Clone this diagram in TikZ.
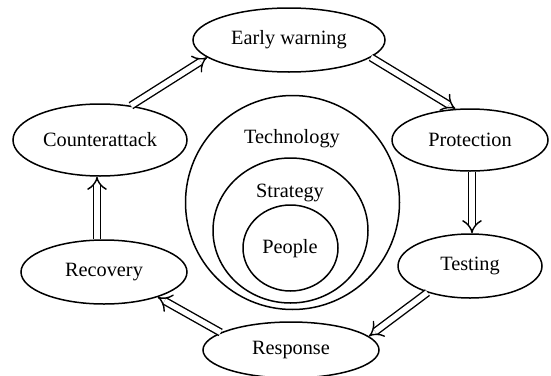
\documentclass[tikz,border=0pt]{standalone}
\usepackage{fontspec}
\setmainfont{Liberation Serif}
\usetikzlibrary{shapes.geometric,arrows.meta}
\begin{document}
\begin{tikzpicture}[x=1pt,y=-1pt,
  oval/.style={draw,line width=1.5pt,ellipse,inner sep=0pt},
  lbl/.style={font=\fontsize{20.3}{24}\selectfont,inner sep=0pt},
  dbl/.style={double distance=5.5pt,line width=1.4pt,-{Implies[scale=1.5]}}]
\useasboundingbox (0,0) rectangle (551,375);
% outer cycle
\node[oval,minimum width=192pt,minimum height=64pt] (ew) at (289,40) {};
\node[oval,minimum width=156pt,minimum height=62pt] (pr) at (470,140) {};
\node[oval,minimum width=144pt,minimum height=64pt] (te) at (470,266) {};
\node[oval,minimum width=176pt,minimum height=56pt] (rs) at (291,350) {};
\node[oval,minimum width=166pt,minimum height=64pt] (rc) at (104,272) {};
\node[oval,minimum width=174pt,minimum height=72pt] (ca) at (100,140) {};
\node[lbl] at (ew.center) {Early warning};
\node[lbl] at (pr.center) {Protection};
\node[lbl] at (te.center) {Testing};
\node[lbl] at (rs.center) {Response};
\node[lbl] at (rc.center) {Recovery};
\node[lbl] at (ca.center) {Counterattack};
% nested circles
\node[oval,minimum width=214pt,minimum height=214pt] (tech) at (292.5,202.5) {};
\node[oval,minimum width=155pt,minimum height=145pt] (strat) at (290.5,230.5) {};
\node[oval,minimum width=95pt,minimum height=86pt] (peop) at (290.5,248) {};
\node[lbl] (techl) at (292,139) {Technology};
\node[lbl] (stratl) at (290,193) {Strategy};
\node[lbl] (peopl) at (290,249) {People};
% arrows
\draw[dbl] (ca.48) -- (ew.192);
\draw[dbl] (ew.-12) -- (pr.115);
\draw[dbl] ([xshift=2pt]pr.south) -- ([xshift=2pt]te.north);
\draw[dbl] (te.212) -- (rs.10);
\draw[dbl] (rs.166) -- (rc.-25);
\draw[dbl] ([xshift=-7pt]rc.north) -- ([xshift=-3pt]ca.south);
\end{tikzpicture}
\end{document}
